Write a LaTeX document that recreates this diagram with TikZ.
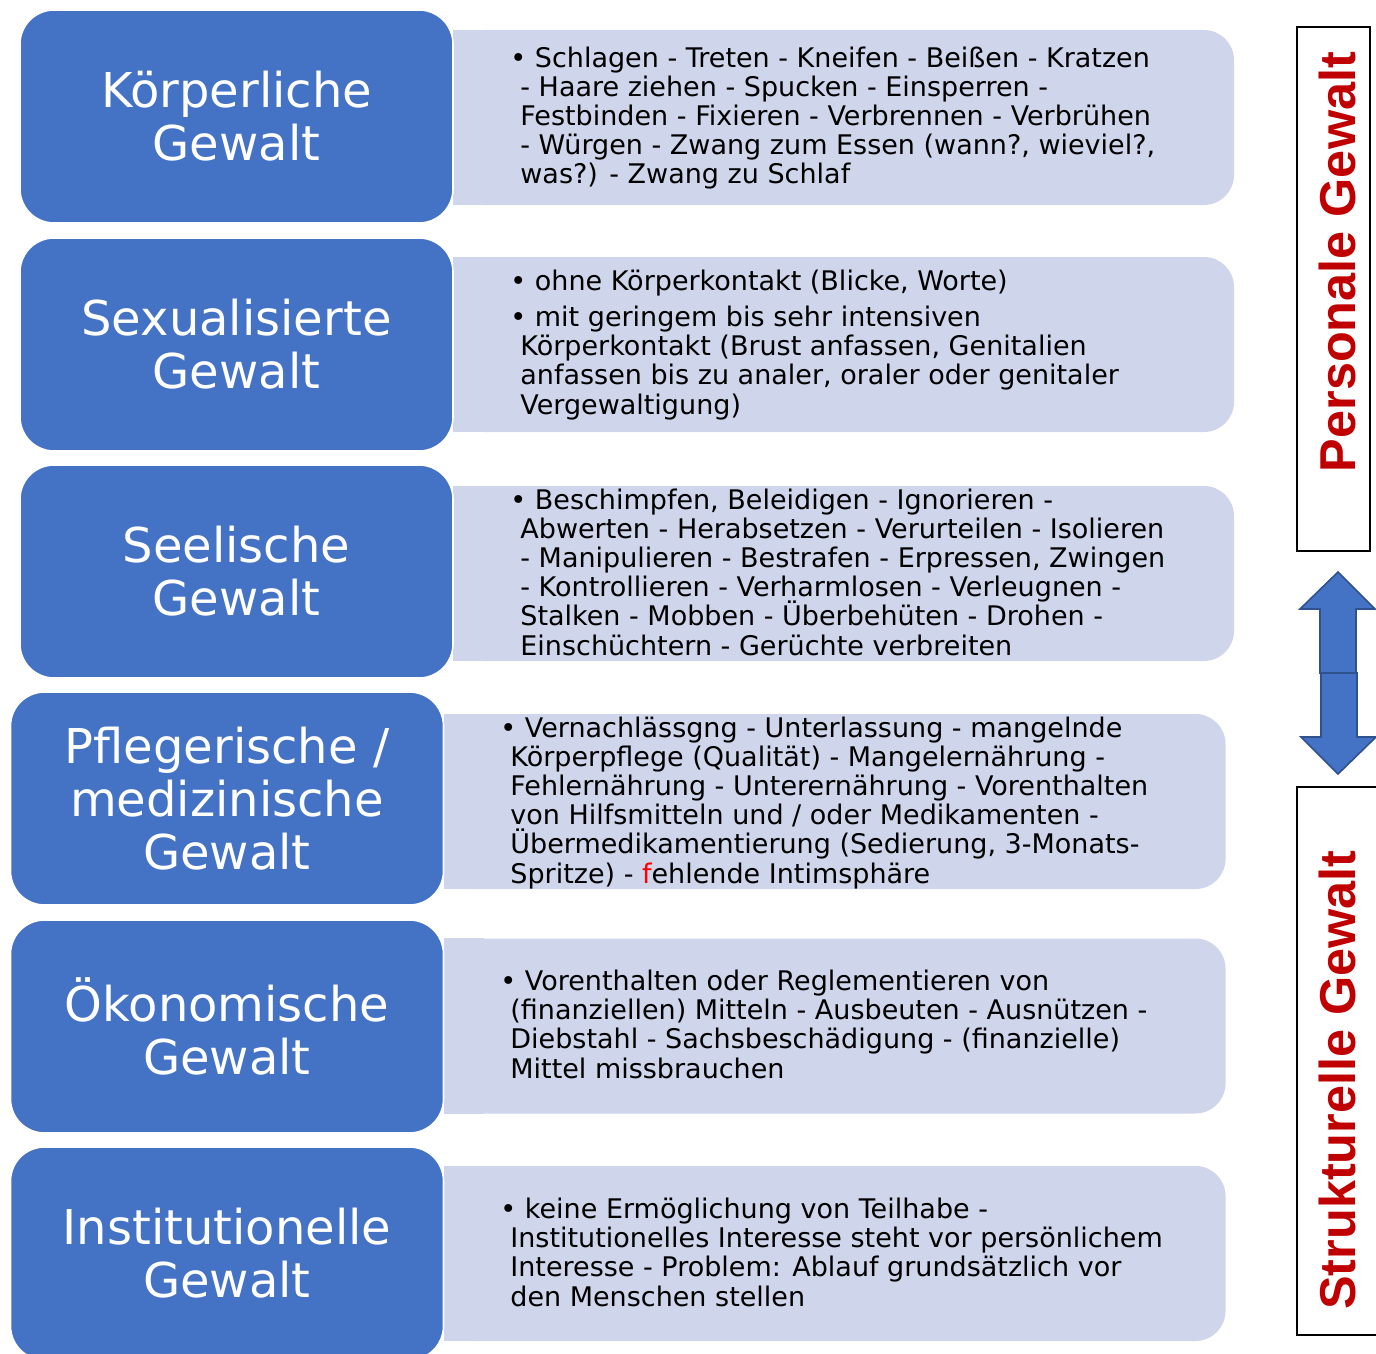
\documentclass[tikz,border=0pt]{standalone}
\usepackage{fontspec}
\setmainfont{DejaVu Sans}
\newfontfamily\labelfont{Liberation Sans}
\definecolor{catblue}{HTML}{4472C4}
\definecolor{descgray}{HTML}{CFD5EA}
\definecolor{labelred}{HTML}{C00000}
\definecolor{arrowline}{HTML}{2F528F}
\newcommand{\ind}{\hspace*{5pt}}
\newcommand{\itemfont}{\fontsize{13.5}{14.6}\selectfont\setlength{\lineskiplimit}{-10pt}}

\begin{document}
\begin{tikzpicture}[x=0.5pt,y=-0.5pt,
	cat/.style={draw=white,line width=0.8pt,fill=catblue,rounded corners=17pt,minimum width=216.5pt,minimum height=106.5pt,align=center,text=white,font=\fontsize{24}{26.5}\selectfont},
	desc/.style={fill=descgray,rounded corners=15pt,minimum width=390.5pt,minimum height=87.5pt},
	items/.style={anchor=base west,inner sep=0pt,align=left,font=\itemfont},
	sideframe/.style={draw=black,line width=1pt,minimum width=36.5pt},
	sidelabel/.style={rotate=90,text=labelred,font=\labelfont\bfseries\fontsize{25.2}{30}\selectfont}]
		\useasboundingbox (0,0) rectangle (1376,1354);
		\clip (0,0) rectangle (1376,1354);
		
		% draw background boxes for the lists
		\node[desc] (desc1) at (843.5,117.5) {};
		\node[desc] (desc2) at (843.5,344.5) {};
		\node[desc] (desc3) at (843.5,573.5) {};
		\node[desc] (desc4) at (835,801.5) {};
		\node[desc] (desc5) at (835,1026) {};
		\node[desc] (desc6) at (835,1253.5) {};
		\foreach \i in {1,...,6}
		{
			\fill[descgray] (desc\i.north west) rectangle ([xshift=20pt]desc\i.south west);
		}
		
		% draw blue boxes
		\node[cat] (cat1) at (236.5,116.5) {Körperliche\\Gewalt};
		\node[cat] (cat2) at (236.5,344.5) {Sexualisierte\\Gewalt};
		\node[cat] (cat3) at (236.5,571.5) {Seelische\\Gewalt};
		\node[cat] (cat4) at (227,798.5) {Pflegerische /\\medizinische\\Gewalt};
		\node[cat] (cat5) at (227,1026.5) {Ökonomische\\Gewalt};
		\node[cat] (cat6) at (227,1253.5) {Institutionelle\\Gewalt};
		
		% draw lists (anchored at baseline of last line)
		\node[items] (list1) at (510,184) {• Schlagen - Treten - Kneifen - Beißen - Kratzen\\
			\ind- Haare ziehen - Spucken - Einsperren -\\
			\ind Festbinden - Fixieren - Verbrennen - Verbrühen\\
			\ind- Würgen - Zwang zum Essen (wann?, wieviel?,\\
			\ind was?) - Zwang zu Schlaf};
		\node[items] (list2) at (510,414) {• ohne Körperkontakt (Blicke, Worte)\\[3.5pt]
			• mit geringem bis sehr intensiven\\
			\ind Körperkontakt (Brust anfassen, Genitalien\\
			\ind anfassen bis zu analer, oraler oder genitaler\\
			\ind Vergewaltigung)};
		\node[items] (list3) at (510,655) {• Beschimpfen, Beleidigen - Ignorieren -\\
			\ind Abwerten - Herabsetzen - Verurteilen - Isolieren\\
			\ind- Manipulieren - Bestrafen - Erpressen, Zwingen\\
			\ind- Kontrollieren - Verharmlosen - Verleugnen -\\
			\ind Stalken - Mobben - Überbehüten - Drohen -\\
			\ind Einschüchtern - Gerüchte verbreiten};
		\node[items] (list4) at (500,883) {• Vernachlässgng - Unterlassung - mangelnde\\
			\ind Körperpflege (Qualität) - Mangelernährung -\\
			\ind Fehlernährung - Unterernährung - Vorenthalten\\
			\ind von Hilfsmitteln und / oder Medikamenten -\\
			\ind Übermedikamentierung (Sedierung, 3-Monats-\\
			\ind Spritze) - {\color{red}f}ehlende Intimsphäre};
		\node[items] (list5) at (500,1078) {• Vorenthalten oder Reglementieren von\\
			\ind(finanziellen) Mitteln - Ausbeuten - Ausnützen -\\
			\ind Diebstahl - Sachsbeschädigung - (finanzielle)\\
			\ind Mittel missbrauchen};
		\node[items] (list6) at (500,1306) {• keine Ermöglichung von Teilhabe -\\
			\ind Institutionelles Interesse steht vor persönlichem\\
			\ind Interesse - Problem: Ablauf grundsätzlich vor\\
			\ind den Menschen stellen};
		
		% draw side frames with labels
		\node[sideframe,minimum height=262pt] (persframe) at (1333.5,289) {};
		\node[sidelabel] (perslabel) at (1337,262) {Personale Gewalt};
		\node[sideframe,minimum width=41.5pt,minimum height=274pt] (strukframe) at (1338.5,1061) {};
		\node[sidelabel] (struklabel) at (1337,1080) {Strukturelle Gewalt};
		
		% draw double arrow
		\draw[fill=catblue,draw=arrowline,line width=0.8pt] (1338,572) -- (1375,609) -- (1356,609) -- (1356,673) -- (1320,673) -- (1320,609) -- (1300,609) -- cycle;
		\draw[fill=catblue,draw=arrowline,line width=0.8pt] (1321,673) -- (1357,673) -- (1357,737) -- (1376,737) -- (1338,774) -- (1301,737) -- (1321,737) -- cycle;
\end{tikzpicture}
\end{document}
